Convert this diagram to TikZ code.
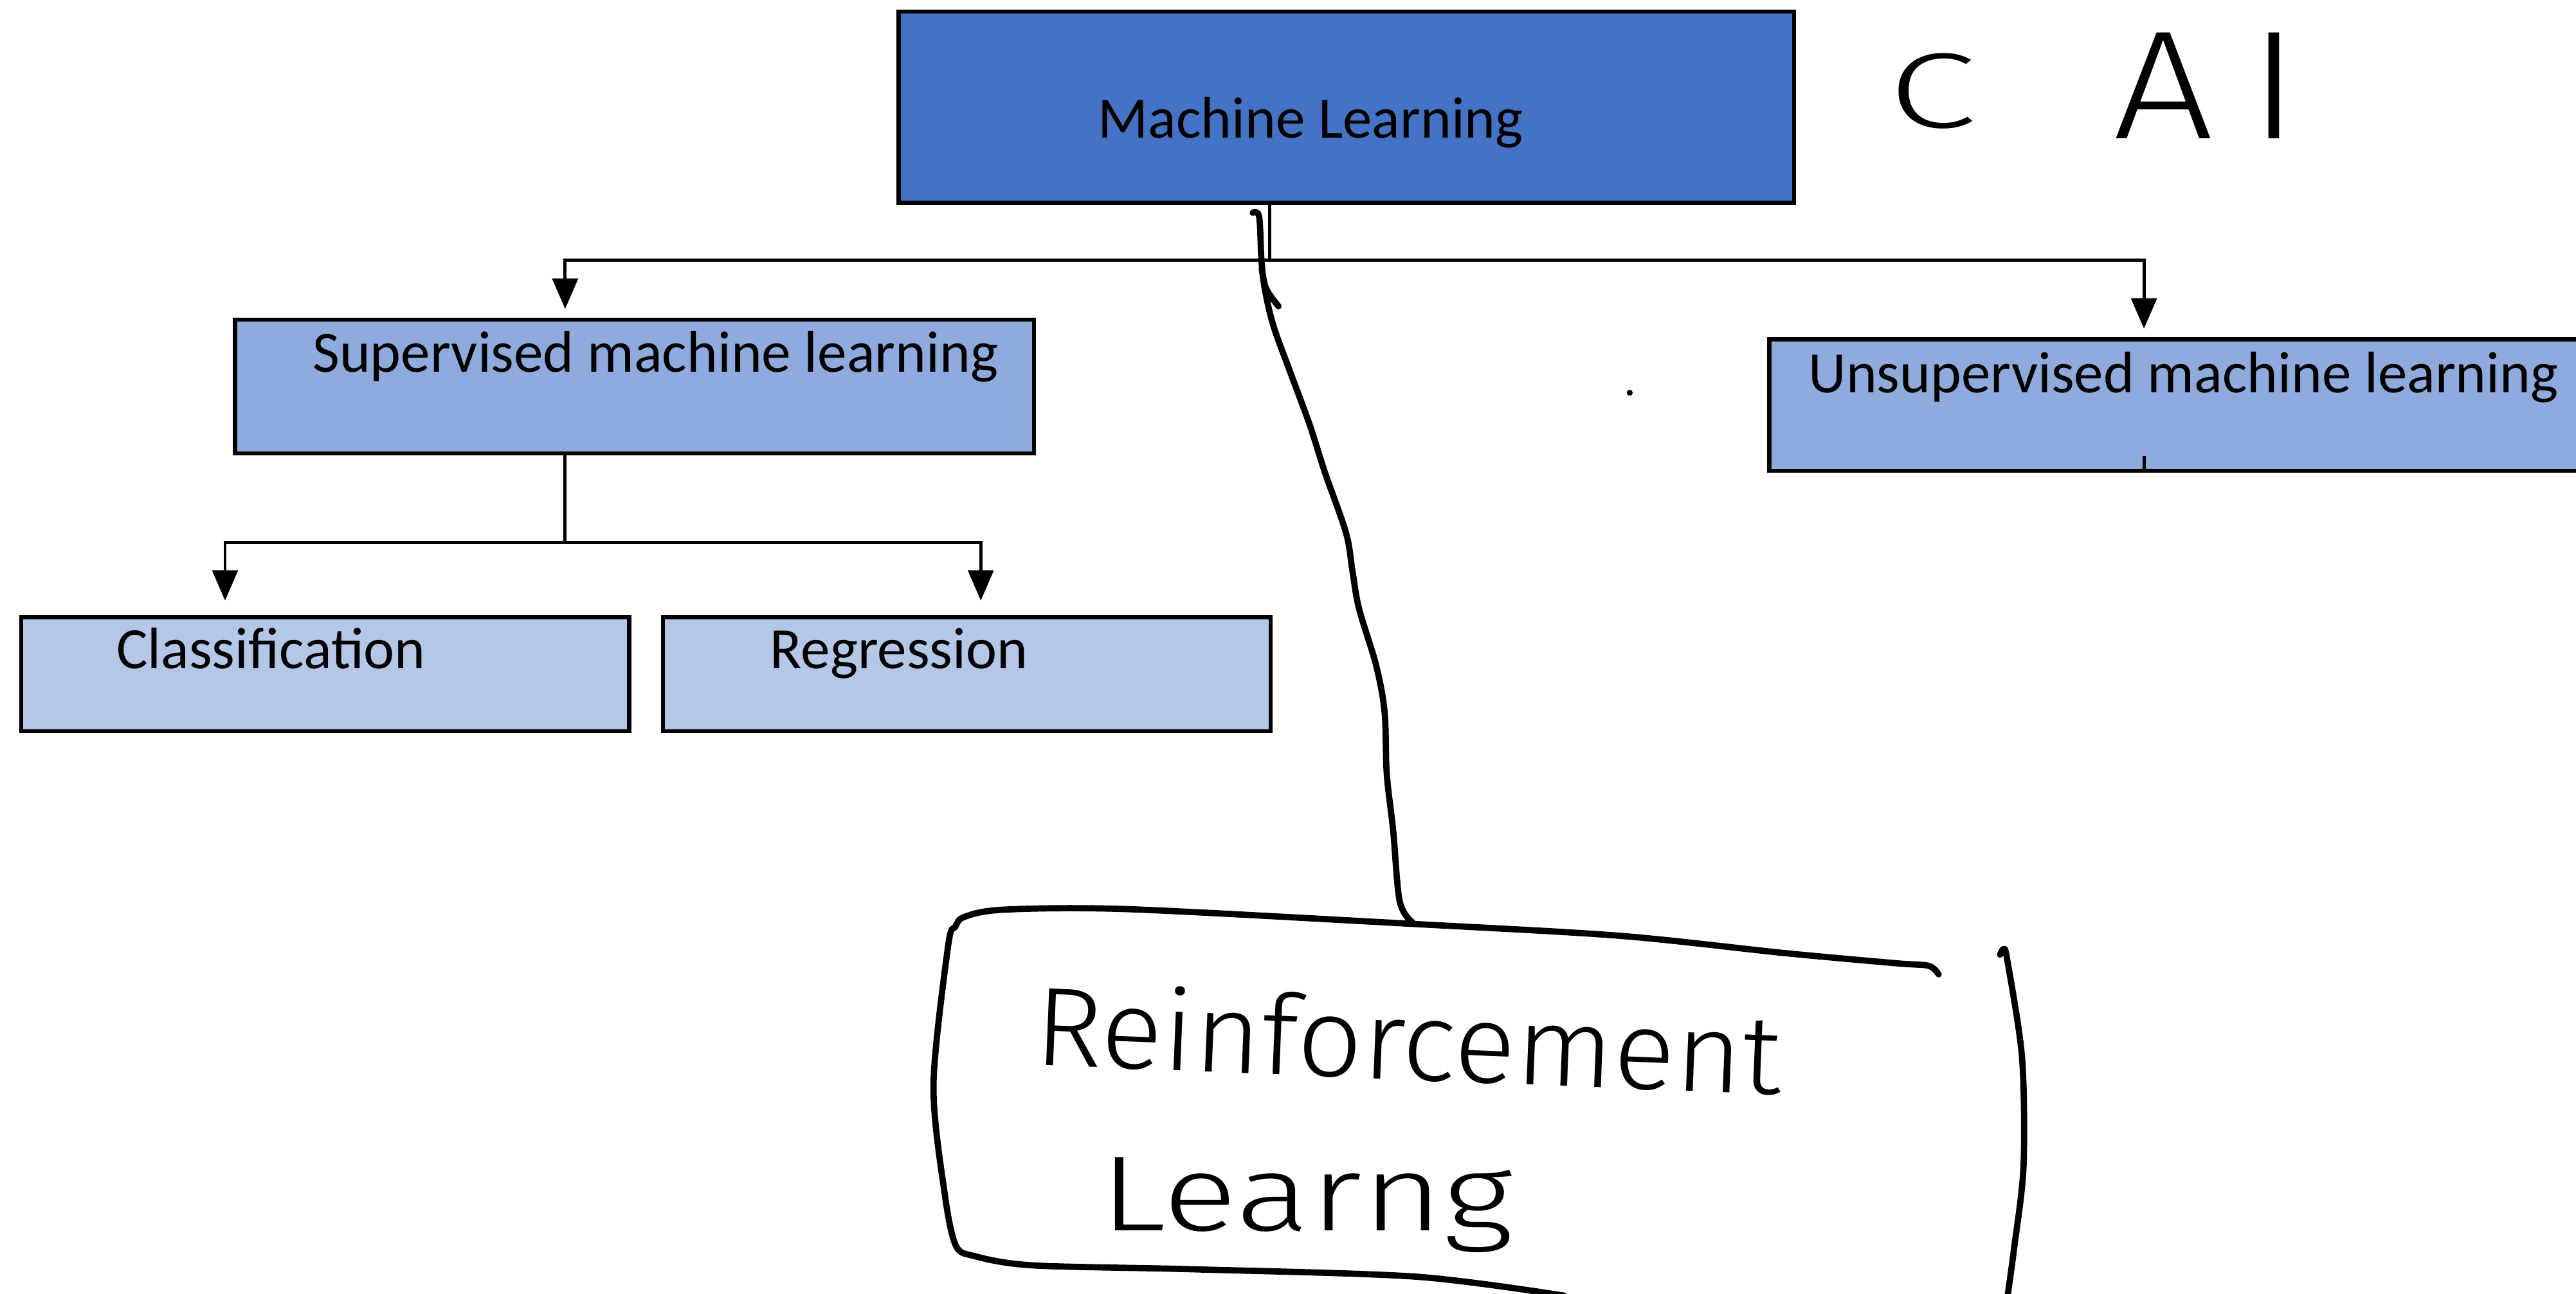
\documentclass[tikz,border=0pt]{standalone}
\usepackage{fontspec}
\setmainfont{Carlito}
\newfontfamily\handfont{Fira Sans Light}
\usetikzlibrary{arrows.meta,fit,calc}
\definecolor{mlblue}{HTML}{4472C4}
\definecolor{midblue}{HTML}{8FAADC}
\definecolor{paleblue}{HTML}{B4C7E7}

\begin{document}
\begin{tikzpicture}[x=0.02cm,y=-0.02cm,
  box/.style={draw=black, line width=0.05cm, inner sep=0pt, outer sep=0pt},
  boxtext/.style={anchor=base west, inner sep=0pt, font=\fontsize{20.3pt}{24pt}\selectfont, text=black},
  conn/.style={line width=0.038cm, draw=black},
  arrowdown/.style={conn, -{Triangle[width=0.31cm,length=0.37cm]}},
  pen/.style={line width=0.076cm, line cap=round, line join=round},
  hand/.style={anchor=base west, inner sep=0pt, text=black},
]
\useasboundingbox (0,0) rectangle (1568,787.5);
\fill[white] (0,0) rectangle (1568,787.5);
\clip (0,0) rectangle (1568,787.5);

% ---- boxes of the hierarchy ----
\node[box, fill=mlblue, fit={(547,7) (1092,123.5)}] (ml) {};
\node[boxtext] (mltext) at (668,84) {Machine Learning};

\node[box, fill=midblue, fit={(143,194.5) (629.5,276)}] (sup) {};
\node[boxtext] (suptext) at (190,226.5) {Supervised machine learning};

\node[box, fill=midblue, fit={(1077,206.5) (1620,286.5)}] (unsup) {};
\node[boxtext] (unsuptext) at (1100.5,239) {Unsupervised machine learning};

\node[box, fill=paleblue, fit={(13,375.5) (383,445)}] (cls) {};
\node[boxtext] (clstext) at (70.5,407) {Classification};

\node[box, fill=paleblue, fit={(403.5,375.5) (773.5,445)}] (reg) {};
\node[boxtext] (regtext) at (468.5,407) {Regression};

% ---- connectors ----
\coordinate (trunk) at (773,158.4);
\coordinate (busL) at (344,158.4);
\coordinate (busR) at (1305,158.4);
\draw[conn] (ml.south -| trunk) -- (trunk);
\draw[arrowdown, shorten >=0.13cm] (trunk) -| (busL |- sup.north);
\draw[arrowdown, shorten >=0.13cm] (trunk) -| (busR |- unsup.north);
\draw[conn] (unsup.south -| busR) -- ++(0,-9);

\coordinate (sbus) at (344,330);
\coordinate (sbL) at (137,330);
\coordinate (sbR) at (597,330);
\draw[conn] (sup.south -| sbus) -- (sbus);
\draw[arrowdown, shorten >=0.2cm] (sbus) -| (sbL |- cls.north);
\draw[arrowdown, shorten >=0.2cm] (sbus) -| (sbR |- reg.north);

% stray dot
\fill (992,239) circle[radius=0.036cm];

% ---- pen annotations ----
\draw[pen] plot[smooth, tension=0.55] coordinates {(762.5,129.5) (766.4,131.8) (767.8,157.6) (769.7,174.9) (775,197.9) (785.4,226.6) (797.1,258.2) (806.3,287) (819.3,324.3) (823.2,347.3) (827.2,370.3) (837.6,404.8) (842.8,433.5) (844.1,470.9) (848,505.4) (852,548.5) (859.8,561.4)};
\draw[pen] (768,163.4) .. controls (770,176) .. (778.2,186.4);

% hand-drawn frame around the new branch
\draw[pen] plot[smooth, tension=0.5] coordinates {(1180,593) (1174,587.8) (1154,586.2) (1086,580) (986,569.5) (858.6,562.2) (686.8,553.3) (611,553.6) (587,558) (581.5,564) (577.2,575) (568.2,660) (575,726.3) (581.7,757.8) (593,764.4) (629,770.1) (728,772.5) (862.5,777) (952,788.5)};
\draw[pen] plot[smooth, tension=0.5] coordinates {(1217.4,581) (1219.6,577.6) (1221.8,584.2) (1230.8,643.7) (1231.7,709.8) (1226,759.4) (1221.8,790)};

\node[hand, font=\handfont\fontsize{38.7pt}{46pt}\selectfont, rotate=-2.3, xscale=1.03] (rl1) at (629,648) {Reinforcement};
\node[hand, font=\handfont\fontsize{37pt}{44pt}\selectfont, xscale=1.3] (rl2) at (669,749) {Learng};

\node[hand, font=\handfont\fontsize{37pt}{44pt}\selectfont, xscale=1.5] (cmark) at (1149,77.6) {C};
\node[hand, font=\handfont\fontsize{53.5pt}{60pt}\selectfont, xscale=1.15] (aimark) at (1286,84.5) {A\kern0.2em I};
\end{tikzpicture}
\end{document}
